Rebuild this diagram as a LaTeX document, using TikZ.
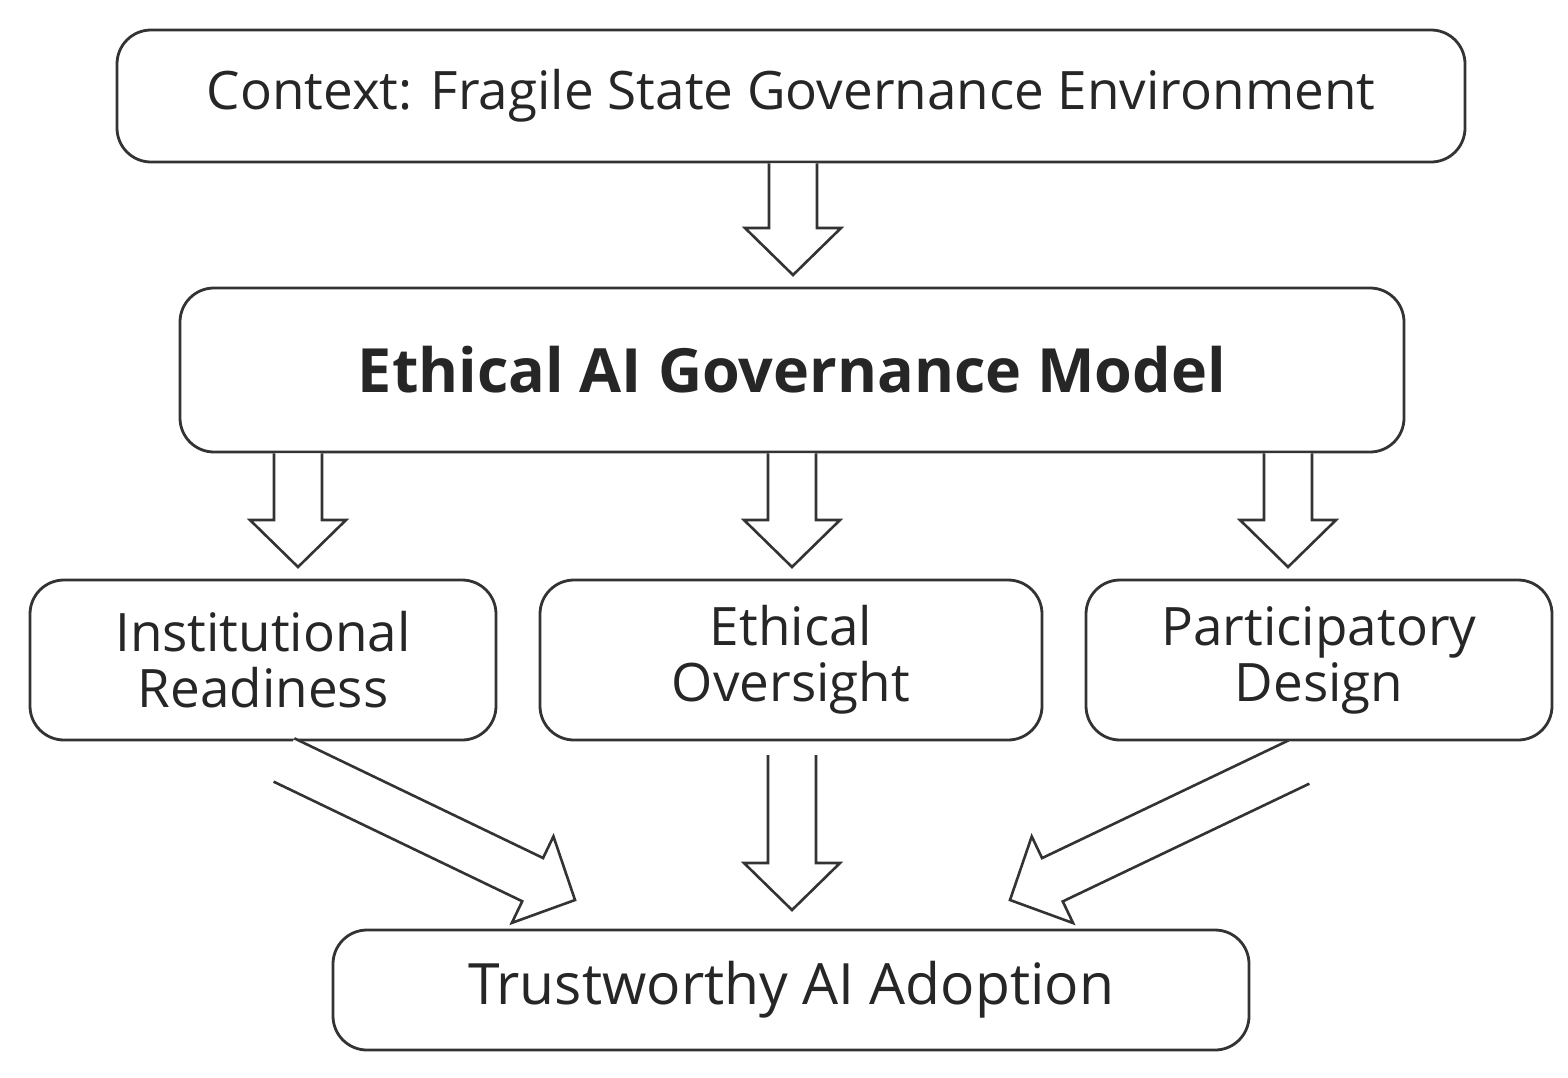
\documentclass[tikz,border=0pt]{standalone}
\usepackage{fontspec}
\setmainfont{Open Sans}
\usetikzlibrary{calc}
\tikzset{
 box/.style={draw=black!80,line width=1.4pt,rounded corners=17pt,align=center,inner sep=0pt,text=black!85},
 arr/.style={draw=black!80,line width=1.3pt,fill=white,line join=miter}
}
\newcommand{\blockarrow}[2]{%
 \draw[arr] ($(#1)!12pt!-90:(#2)$) -- ($($(#2)!23.5pt!(#1)$)!12pt!-90:(#2)$) -- ($($(#2)!23.5pt!(#1)$)!24pt!-90:(#2)$) -- (#2)
 -- ($($(#2)!23.5pt!(#1)$)!24pt!90:(#2)$) -- ($($(#2)!23.5pt!(#1)$)!12pt!90:(#2)$) -- ($(#1)!12pt!90:(#2)$);}
\begin{document}
\begin{tikzpicture}[x=0.5pt,y=-0.5pt]
\useasboundingbox (0,0) rectangle (1568,1077);
\node[box,minimum width=674pt,minimum height=66pt,font=\fontsize{26.5}{30}\selectfont] (ctx) at (791,96) {Context: Fragile State Governance Environment};
\node[box,minimum width=612pt,minimum height=82pt,font=\fontsize{30.5}{34}\selectfont\bfseries] (model) at (792,370) {Ethical AI Governance Model};
\node[box,minimum width=233pt,minimum height=80pt,font=\fontsize{26.5}{28}\selectfont] (inst) at (263,660) {Institutional\\Readiness};
\node[box,minimum width=251pt,minimum height=80pt,font=\fontsize{26.5}{28}\selectfont] (eth) at (791,660) {Ethical\\Oversight};
\node[box,minimum width=233pt,minimum height=80pt,font=\fontsize{26.5}{28}\selectfont] (part) at (1319,660) {Participatory\\Design};
\node[box,minimum width=458pt,minimum height=60pt,font=\fontsize{28.5}{32}\selectfont] (trust) at (791,990) {Trustworthy AI Adoption};
\coordinate (b1) at (793,275); \coordinate (a1) at (ctx.south -| b1);
\coordinate (b2) at (298,567); \coordinate (a2) at (model.south -| b2);
\coordinate (b3) at (792,567); \coordinate (a3) at (model.south -| b3);
\coordinate (b4) at (1288,567); \coordinate (a4) at (model.south -| b4);
\coordinate (a5) at (792,755); \coordinate (b5) at (792,910);
\coordinate (a6) at (284,760); \coordinate (b6) at (575,900);
\coordinate (a7) at (1299,762); \coordinate (b7) at (1010,900);
\blockarrow{a1}{b1}
\blockarrow{a2}{b2}
\blockarrow{a3}{b3}
\blockarrow{a4}{b4}
\blockarrow{a5}{b5}
\blockarrow{a6}{b6}
\blockarrow{a7}{b7}
\end{tikzpicture}
\end{document}
